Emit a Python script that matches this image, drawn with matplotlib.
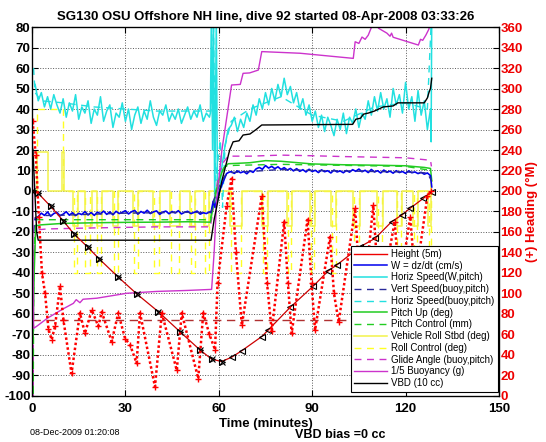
import matplotlib.pyplot as plt
from matplotlib.lines import Line2D
import numpy as np

plt.rcParams['font.family'] = ['Liberation Sans', 'DejaVu Sans']

# ---- values ----
# dive profile (depth / 10, left axis)
dive_t = [0, 1.9, 6, 10, 13.5, 18, 21.5, 27.7, 33.8, 40.6, 47.5, 54, 57.7, 60.9,
          64.1, 67.4, 73.8, 75.9, 82.9, 90.4, 95.2, 97.9, 105.4, 110.2, 115.5,
          118.8, 121.4, 125.7, 128.4]
dive_depth = [0, -1, -7.5, -14.5, -21, -27.5, -33, -42, -50.4, -58.9, -68.6, -77.6,
              -82, -83.2, -81.1, -77.9, -71, -67.8, -56.8, -46.3, -38.9, -36.1,
              -27.2, -23.1, -15, -11.7, -8.5, -3.6, -0.3]
n_desc_marks = 14

# horizontal speed (W, pitch), noisy
hs_t_desc = np.arange(1, 58)
hs_desc = [52, 44, 48, 41, 46, 40, 47, 42, 38, 45,
           36, 43, 39, 47, 35, 41, 38, 44, 33, 40,
           37, 46, 34, 39, 42, 31, 38, 36, 43, 34,
           40, 30, 37, 41, 33, 39, 35, 44, 36, 32,
           39, 37, 42, 34, 38, 35, 40, 33, 37, 41,
           35, 39, 36, 42, 34, 38, 36]
hs_t_mid = [57.3, 57.6, 58.0, 58.3, 58.7, 59.2, 59.6, 60.2, 61, 62, 63]
hs_mid = [38, 85, 20, 85, -8, 85, -5, 0, 12, 22, 30]
hs_t_asc = np.arange(64, 128)
hs_asc = [32, 36, 29, 35, 31, 38, 34, 42, 37, 45,
          40, 48, 42, 50, 44, 52, 46, 55, 47, 51,
          43, 48, 40, 45, 37, 42, 34, 39, 31, 37,
          29, 36, 32, 27, 35, 30, 38, 28, 36, 33,
          40, 31, 38, 35, 44, 37, 46, 39, 48, 40,
          45, 36, 50, 42, 47, 38, 53, 40, 46, 34,
          49, 37, 44, 30]
hs_t_end = [128, 128.2, 128.4]
hs_end = [40, 24, 85]

# vertical speed W = dz/dt, noisy
w_t_desc = np.arange(1, 58)
w_desc = [-14.0, -12.5, -10.8, -11.9, -10.2, -12.3, -11.0, -10.4, -12.1, -11.3,
          -10.1, -11.8, -10.6, -12.0, -10.9, -11.5, -10.0, -11.7, -10.5, -11.9,
          -10.3, -11.1, -9.8, -11.4, -10.2, -11.6, -9.9, -11.0, -10.4, -9.6,
          -11.2, -10.1, -9.5, -11.3, -10.0, -10.8, -9.4, -11.0, -10.2, -9.7,
          -11.4, -10.3, -9.8, -11.1, -10.0, -10.7, -9.6, -11.2, -10.4, -9.9,
          -11.0, -10.5, -9.8, -11.3, -10.6, -11.0, -10.2]
w_t_mid = [57.5, 58.2, 58.8, 59.5, 61, 62.5, 63.3]
w_mid = [-10.5, -5, -8, -3, 3, 8.5, 9.2]
w_t_asc = np.arange(64, 128)
w_asc = [9.4, 8.6, 9.8, 8.9, 9.5, 8.4, 9.9, 9.1, 10.8, 11.5,
         10.6, 12.4, 11.2, 12.0, 10.9, 11.8, 10.5, 11.4, 10.2, 11.0,
         9.8, 10.9, 9.6, 10.4, 9.3, 10.6, 9.5, 10.1, 9.0, 10.3,
         9.4, 9.9, 8.8, 10.2, 9.3, 9.8, 8.9, 10.0, 9.2, 10.4,
         9.6, 10.7, 9.4, 10.1, 9.0, 10.5, 9.3, 9.9, 8.8, 10.2,
         9.1, 9.7, 8.7, 9.9, 9.0, 9.5, 8.6, 9.8, 8.9, 9.3,
         8.5, 9.1, 8.2, 8.8]
w_t_end = [128, 128.4]
w_end = [7.5, 2]

# buoyancy-model speeds (smooth)
vs_t = [0.5, 1, 3, 10, 20, 30, 40, 50, 57.5, 58.5, 60, 62, 64, 70, 80, 90, 100,
        110, 120, 127, 128.3]
vs = [-20, -13, -12, -11.8, -11.3, -10.8, -10.6, -10.4, -10.5, -4, 2, 7.5, 9,
      9.5, 10.5, 10, 9.8, 9.5, 9.3, 8.8, 5]
hb_t = [0.5, 1, 3, 10, 20, 30, 40, 50, 57.5, 58.3, 59, 60.5, 61.2, 62, 64, 70,
        80, 90, 100, 110, 120, 127, 128.3]
hb = [60, 48, 44, 43, 41, 40, 39, 39, 39, 80, 5, 25, -8, 22, 34, 40, 46, 37, 34,
      41, 43, 40, 85]

# pitch
pitch_t = [0, 0.3, 0.7, 1.2, 3, 10, 20, 30, 40, 50, 57.3, 58.5, 60, 61.5, 63, 66,
           70, 75, 80, 90, 100, 110, 120, 126, 128, 128.4]
pitch = [-50, -72, -40, -17, -16.5, -15.8, -15.5, -15.3, -15.2, -15.0, -15.2, -5,
         5, 11, 13.3, 13.5, 13.8, 14.8, 14.5, 13.2, 12.8, 12.6, 12.3, 11.5, 11, 5]
pctl_t = [0.2, 0.4, 0.6, 1.2, 10, 30, 57.3, 58.5, 60.5, 62, 65, 80, 100, 120, 128.3]
pctl = [-40, -100, -30, -14, -14, -14, -14, -3, 8, 12, 12.5, 13, 12.5, 12, 10]

# roll (step shaped)
roll_t = [0, 1.5, 5.0, 9.6, 10.3, 13.3, 14.9, 17.0, 19.2, 20.8, 22.4, 26.1, 27.7,
          32.5, 34.1, 39.0, 41.1, 44.3, 47.5, 50.8, 52.5, 55.3, 57.0, 63.6, 67.4,
          73.8, 75.9, 81.8, 83.4, 89.3, 90.9, 96.2, 97.8, 103.2, 105.3, 110.7,
          112.8, 117.1, 118.7, 122.4, 124.1, 127.3, 128.2, 128.4]
roll = [0, 19, 0, 19, 0, -17, 0, -17, 0, -17, 0, -17, 0, -17, 0, -17, 0, -17, 0,
        -17, 0, -17, 0, -17, 0, -17, 0, -17, 0, -17, 0, -17, 0, -17, 0, -17, 0,
        -17, 0, -17, 0, -17, 5, 5]
rctl_t = [0, 1.5, 10, 13.5, 14.5, 17.1, 18.5, 21.0, 22.2, 26.3, 27.5, 32.8, 34.0,
          39.2, 40.8, 44.6, 47.2, 51.0, 52.3, 55.5, 56.8, 63.9, 67.0, 74.1, 75.6,
          82.1, 83.1, 89.6, 90.6, 96.5, 97.5, 103.5, 105.0, 111.0, 112.5, 117.4,
          118.4, 122.7, 123.8, 127.5, 128.3]
rctl = [0, 40, 0, -40, 0, -40, 0, -40, 0, -40, 0, -40, 0, -40, 0, -40, 0, -40, 0,
        -40, 0, -40, 0, -40, 0, -40, 0, -40, 0, -40, 0, -40, 0, -40, 0, -40, 0,
        -40, 0, -40, 0]

# glide angle
glide_t = [0.2, 0.35, 0.5, 1.2, 5, 20, 40, 57.3, 58.5, 60, 61.5, 63, 70, 80, 90,
           100, 110, 120, 128, 128.3]
glide = [-30, -100, -40, -19, -18.5, -18, -17.5, -17.5, -5, 8, 14, 17, 17, 17.5,
         17.2, 16.8, 16.5, 16.2, 15, 12]

# 1/5 buoyancy
buoy_t = [0, 0.5, 1.5, 5, 10, 13.3, 14.2, 15.4, 16.4, 20.8, 30.4, 40, 50, 57.7,
          58.5, 59.3, 61, 64.1, 66.9, 67.8, 69.9, 72.7, 73.8, 86.1, 103.2, 103.8,
          105, 106, 107, 108, 109.6, 110.5, 111.3, 114, 115, 115.5, 116, 124.1,
          124.8, 125.5, 126.5, 127.5, 128.3]
buoy = [50, -67, -66, -62, -57.5, -54.8, -53, -54.5, -52.8, -52.3, -49.9, -49,
        -48.5, -48, -30, -5, 20, 51.7, 52, 57.4, 57.6, 59, 68, 67.2, 64.7, 72.8,
        72, 75.1, 74, 76, 82, 84, 79.4, 77, 75.5, 77, 75, 71.2, 74, 73.5, 76, 79, 85]

# VBD
vbd_t = [0, 0.3, 1.5, 2, 57.5, 58.5, 61, 63.5, 64.6, 66.5, 67.8, 70, 72, 73.8,
         103, 104, 105.5, 106.5, 108, 110, 112.8, 116, 117.5, 126, 127, 127.5,
         128, 128.4]
vbd = [22, 20, -20, -24, -24, -14, 5, 20, 24, 24.5, 27.3, 27.8, 30, 32.2, 32.5,
       35, 35.5, 37.5, 38, 39, 41, 41.5, 43, 43, 45.4, 48, 50, 55]

# heading (right axis, deg M)
head_t = [0.2, 1.2, 2.2, 3.2, 4.2, 5.3, 6.3, 7.4, 9.0, 10.1, 12.7, 15.4, 17, 19.2,
          21.3, 22.4, 25.6, 27.7, 29.9, 31.5, 33.6, 34.7, 39.5, 41.7, 46.5, 48.1,
          53.4, 55, 57, 58.8, 59.6, 62.5, 64.1, 65.5, 67.4, 73.8, 75.5, 77, 81,
          82.2, 83.4, 88.5, 89.8, 90.9, 95.7, 97, 98.5, 103.8, 105, 106.3, 109.6,
          110.8, 112, 116.5, 117.5, 118.5, 121.5, 122.5, 123.5, 127, 128.2]
head = [268, 235, 175, 120, 100, 65, 55, 68, 107, 74, 22, 81, 61, 84, 68, 82, 53,
        81, 56, 50, 32, 81, 9, 81, 25, 81, 17, 81, 60, 45, 110, 185, 212, 140, 69,
        195, 110, 63, 170, 110, 61, 172, 110, 64, 155, 100, 72, 183, 120, 85, 186,
        130, 95, 170, 130, 115, 175, 135, 120, 195, 200]

# bottom / height reference
bottom_t = [0, 128.4]
bottom = [-63, -63]

xticks = [0, 30, 60, 90, 120, 150]
yticks = list(range(-100, 81, 10))
rticks = list(range(0, 361, 20))

# ---- colours ----
c_red = '#ee0000'
c_blue = '#0000ee'
c_navy = '#2a2a9a'
c_cyan = '#22e0e0'
c_green = '#22cc22'
c_yel = '#f2f24a'
c_yel2 = '#ffff22'
c_mag = '#cc33cc'

fig = plt.figure(figsize=(5.46, 4.42), dpi=100)
ax = fig.add_axes([0.0586, 0.1041, 0.8553, 0.8348])

ax.plot(bottom_t, bottom, color='#b03030', lw=1, ls=(0, (6, 4)))
ax.plot(rctl_t, rctl, color=c_yel2, lw=1, ls=(0, (5, 4)), drawstyle='steps-post')
ax.plot(roll_t, roll, color=c_yel, lw=1.1, drawstyle='steps-post')
ax.plot(np.concatenate([hs_t_desc, hs_t_mid, hs_t_asc, hs_t_end]),
        np.concatenate([hs_desc, hs_mid, hs_asc, hs_end]), color=c_cyan, lw=1.1)
ax.plot(hb_t, hb, color=c_cyan, lw=1, ls=(0, (5, 4)))
ax.plot(glide_t, glide, color=c_mag, lw=1, ls=(0, (5, 4)))
ax.plot(pctl_t, pctl, color=c_green, lw=1, ls=(0, (5, 4)))
ax.plot(pitch_t, pitch, color=c_green, lw=1.1)
ax.plot(np.concatenate([w_t_desc, w_t_mid, w_t_asc, w_t_end]),
        np.concatenate([w_desc, w_mid, w_asc, w_end]), color=c_blue, lw=1.2)
ax.plot(vs_t, vs, color=c_navy, lw=1, ls=(0, (5, 4)))
ax.plot(buoy_t, buoy, color=c_mag, lw=1)
ax.plot(vbd_t, vbd, color='black', lw=1)
ax.plot(dive_t, dive_depth, color='#cc0000', lw=0.9)
ax.plot(dive_t[:n_desc_marks], dive_depth[:n_desc_marks], ls='none', marker='>',
        mfc='none', mec='black', ms=5, mew=0.8)
ax.plot(dive_t[:n_desc_marks], dive_depth[:n_desc_marks], ls='none', marker='x',
        color='black', ms=4, mew=0.8)
ax.plot(dive_t[n_desc_marks:], dive_depth[n_desc_marks:], ls='none', marker='<',
        mfc='none', mec='black', ms=5, mew=0.8)

ax.set_xlim(0, 150)
ax.set_ylim(-100, 80)
ax.set_xticks(xticks)
ax.set_yticks(yticks)
ax.set_xticklabels([str(v) for v in xticks], fontweight='bold', fontsize=9.5)
ax.set_yticklabels([str(v) for v in yticks], fontweight='bold', fontsize=9.5)
ax.tick_params(direction='in', length=4, top=True, pad=1)
ax.tick_params(axis='x', pad=5)
ax.grid(True, ls=':', color='0.35', lw=0.7)
for s in ax.spines.values():
    s.set_linewidth(0.9)

ax.set_xlabel('Time (minutes)', fontweight='bold', fontsize=9.5, labelpad=2)
ax.set_title('SG130 OSU Offshore NH line, dive 92 started 08-Apr-2008 03:33:26',
             fontweight='bold', fontsize=9.5, pad=5)

ax2 = ax.twinx()
ax2.plot(head_t, head, color='red', lw=1.8, ls=(0, (1, 1)))
ax2.plot(head_t, head, ls='none', marker='+', color='red', ms=4, mew=1)
ax2.set_ylim(0, 360)
ax2.set_yticks(rticks)
ax2.set_yticklabels([str(v) for v in rticks], fontweight='bold', fontsize=9.5,
                    color=c_red)
ax2.tick_params(direction='in', length=4, pad=1)
ax2.set_ylabel('(+) Heading (\u00b0M)', color=c_red, fontweight='bold',
               fontsize=9.5, labelpad=2)

handles = [
    Line2D([], [], color=c_red, lw=1),
    Line2D([], [], color=c_blue, lw=1.1),
    Line2D([], [], color=c_cyan, lw=1.1),
    Line2D([], [], color=c_navy, lw=1, ls=(0, (5, 4))),
    Line2D([], [], color=c_cyan, lw=1, ls=(0, (5, 4))),
    Line2D([], [], color=c_green, lw=1.1),
    Line2D([], [], color=c_green, lw=1, ls=(0, (5, 4))),
    Line2D([], [], color=c_yel, lw=1.1),
    Line2D([], [], color=c_yel2, lw=1, ls=(0, (5, 4))),
    Line2D([], [], color=c_mag, lw=1, ls=(0, (5, 4))),
    Line2D([], [], color=c_mag, lw=1),
    Line2D([], [], color='black', lw=1),
]
labels = ['Height (5m)', 'W = dz/dt (cm/s)', 'Horiz Speed(W,pitch)',
          'Vert Speed(buoy,pitch)', 'Horiz Speed(buoy,pitch)', 'Pitch Up (deg)',
          'Pitch Control (mm)', 'Vehicle Roll Stbd (deg)', 'Roll Control (deg)',
          'Glide Angle (buoy,pitch)', '1/5 Buoyancy (g)', 'VBD (10 cc)']
leg = ax2.legend(handles, labels, loc='lower right', bbox_to_anchor=(0.998, 0.012),
                 fontsize=7, frameon=True, fancybox=False, framealpha=1,
                 edgecolor='black', handlelength=3.3, handletextpad=0.5,
                 labelspacing=0.18, borderpad=0.35, borderaxespad=0)
leg.get_frame().set_linewidth(0.8)

fig.text(0.055, 0.015, '08-Dec-2009 01:20:08', fontsize=6.5)
fig.text(0.54, 0.01, 'VBD bias =0 cc', fontsize=9, fontweight='bold')

fig.savefig('out.png', dpi=100)
